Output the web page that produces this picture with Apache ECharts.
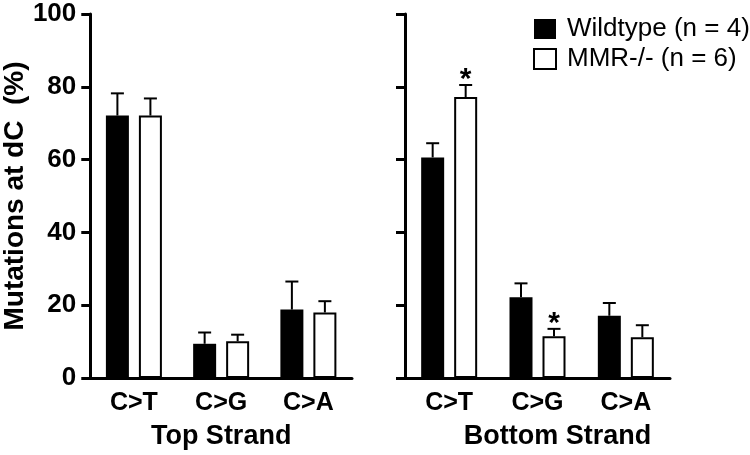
<!DOCTYPE html>
<html><head><meta charset="utf-8">
<script src="https://cdn.jsdelivr.net/npm/echarts@6/dist/echarts.min.js"></script>
<style>html,body{margin:0;padding:0;background:#fff}#c{width:750px;height:455px}</style>
</head><body><div id="c"></div>
<script>
const categories = ['C>T', 'C>G', 'C>A'];
const yTicks = [0, 20, 40, 60, 80, 100];
const seriesNames = ['Wildtype (n = 4)', 'MMR-/- (n = 6)'];
// Top strand
const topWT = [72.1, 9.4, 18.8];
const topWTErr = [6.1, 3.1, 7.7];
const topMMR = [72.1, 10.1, 18.0];
const topMMRErr = [4.7, 1.8, 3.1];
const topMMRSig = ['', '', ''];
// Bottom strand
const botWT = [60.6, 22.2, 17.1];
const botWTErr = [3.9, 3.8, 3.5];
const botMMR = [77.2, 11.5, 11.2];
const botMMRErr = [3.3, 2.0, 3.3];
const botMMRSig = ['*', '*', ''];

const FONT = '"Liberation Sans", Arial, sans-serif';
const BAR_W = 23, GAP = 10;
const OFF = (BAR_W + GAP) / 2;

function errSeries(gi, vals, errs, sig, offset) {
  return {
    type: 'custom', xAxisIndex: gi, yAxisIndex: gi, z: 5, silent: true,
    data: vals.map((v, i) => [i, v, errs[i], sig[i] || '']),
    renderItem: function (params, api) {
      const p0 = api.coord([api.value(0), api.value(1)]);
      const p1 = api.coord([api.value(0), api.value(1) + api.value(2)]);
      const x = p0[0] + offset;
      const ls = { stroke: '#000', lineWidth: 2 };
      const children = [
        { type: 'line', shape: { x1: x, y1: p0[1], x2: x, y2: p1[1] }, style: ls },
        { type: 'line', shape: { x1: x - 6.5, y1: p1[1], x2: x + 6.5, y2: p1[1] }, style: ls }
      ];
      const s = api.value(3);
      if (s) {
        children.push({ type: 'text', x: x, y: p1[1] + 10,
          style: { text: s, fill: '#000', font: 'bold 30px ' + FONT, textAlign: 'center', textVerticalAlign: 'bottom' } });
      }
      return { type: 'group', children: children };
    }
  };
}

const chart = echarts.init(document.getElementById('c'));
const xAxisBase = (gi, name, pad) => ({
  type: 'category', gridIndex: gi, data: categories,
  axisLine: { lineStyle: { color: '#000', width: 3 } },
  axisTick: { alignWithLabel: true, length: 5, lineStyle: { color: '#000', width: 3 } },
  axisLabel: { color: '#000', fontFamily: FONT, fontWeight: 'bold', fontSize: 25, margin: 13 },
  name: name, nameLocation: 'middle', nameGap: 45,
  nameTextStyle: { color: '#000', fontFamily: FONT, fontWeight: 'bold', fontSize: 27, padding: pad }
});
const yAxisBase = (gi, showLabel) => ({
  type: 'value', gridIndex: gi, min: 0, max: 100, interval: 20,
  splitLine: { show: false },
  axisLine: { show: true, lineStyle: { color: '#000', width: 3 } },
  axisTick: { show: true, length: 9, lineStyle: { color: '#000', width: 3 } },
  axisLabel: { show: showLabel, color: '#000', fontFamily: FONT, fontWeight: 'bold', fontSize: 26, margin: 14,
    formatter: v => yTicks.includes(v) ? String(v) : '' }
});

const y0 = yAxisBase(0, true);
y0.name = 'Mutations at dC  (%)';
y0.nameLocation = 'middle';
y0.nameGap = 57;
y0.nameTextStyle = { color: '#000', fontFamily: FONT, fontWeight: 'bold', fontSize: 28 };

chart.setOption({
  animation: false,
  backgroundColor: '#fff',
  grid: [
    { left: 89, top: 14, width: 263, height: 367.7 },
    { left: 405, top: 14, width: 265, height: 367.7 }
  ],
  legend: {
    data: seriesNames, orient: 'vertical', left: 533, top: 16, padding: 0,
    itemWidth: 22, itemHeight: 20, itemGap: 4, icon: 'rect',
    textStyle: { color: '#000', fontFamily: FONT, fontSize: 26, padding: [0, 0, 0, 6] }
  },
  xAxis: [xAxisBase(0, 'Top Strand', [0, 0, 0, 0]), xAxisBase(1, 'Bottom Strand', [0, 0, 0, 40])],
  yAxis: [y0, yAxisBase(1, false)],
  series: [
    { name: seriesNames[0], type: 'bar', xAxisIndex: 0, yAxisIndex: 0, data: topWT, barWidth: BAR_W, barGap: (GAP / BAR_W * 100) + '%',
      itemStyle: { color: '#000' } },
    { name: seriesNames[1], type: 'bar', xAxisIndex: 0, yAxisIndex: 0, data: topMMR, barWidth: BAR_W,
      itemStyle: { color: '#fff', borderColor: '#000', borderWidth: 2 } },
    { name: seriesNames[0], type: 'bar', xAxisIndex: 1, yAxisIndex: 1, data: botWT, barWidth: BAR_W, barGap: (GAP / BAR_W * 100) + '%',
      itemStyle: { color: '#000' } },
    { name: seriesNames[1], type: 'bar', xAxisIndex: 1, yAxisIndex: 1, data: botMMR, barWidth: BAR_W,
      itemStyle: { color: '#fff', borderColor: '#000', borderWidth: 2 } },
    errSeries(0, topWT, topWTErr, ['', '', ''], -OFF),
    errSeries(0, topMMR, topMMRErr, topMMRSig, OFF),
    errSeries(1, botWT, botWTErr, ['', '', ''], -OFF),
    errSeries(1, botMMR, botMMRErr, botMMRSig, OFF)
  ]
});
</script></body></html>
